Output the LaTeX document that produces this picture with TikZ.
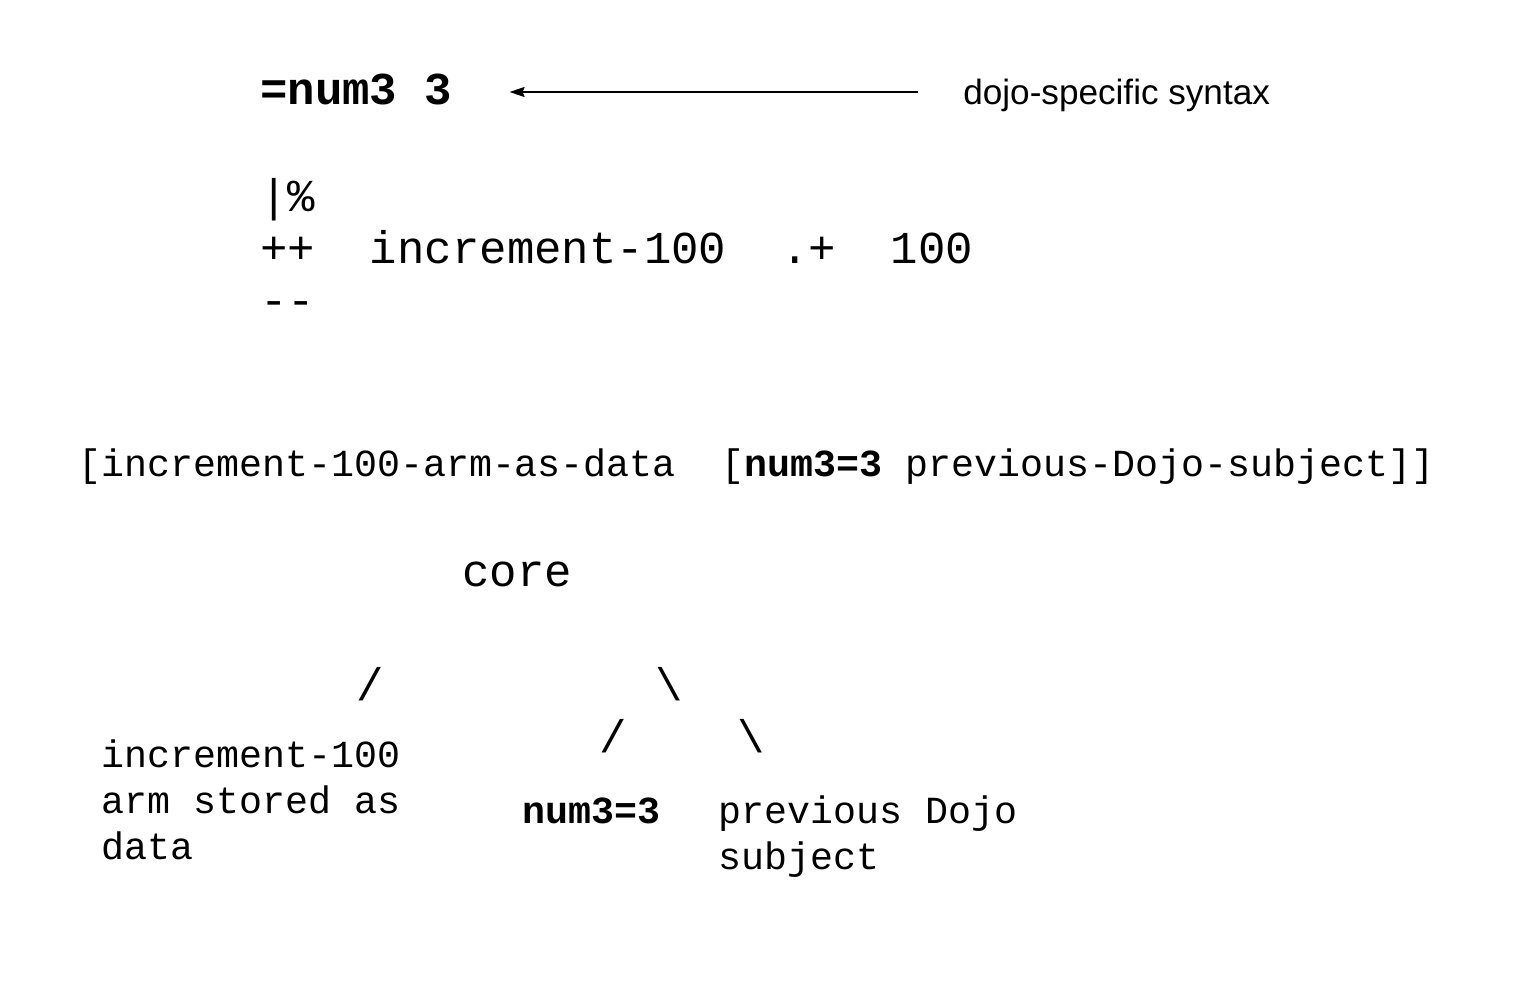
\documentclass[tikz,border=0pt]{standalone}
\usepackage{fontspec}
\setmainfont{Liberation Sans}
\newfontfamily\codefont{Liberation Mono}
\usetikzlibrary{arrows.meta}

\tikzset{
    big/.style={inner sep=0, font=\codefont\fontsize{26}{29.5}\selectfont},
    small/.style={inner sep=0, font=\codefont\fontsize{21.8}{26.1}\selectfont},
}

\begin{document}
\begin{tikzpicture}[x=0.02cm, y=-0.02cm]
    \useasboundingbox (0,0) rectangle (1516,984);
    % syntax line
    \node[big, anchor=base west] (num) at (260,104) {\bfseries =num3 3};
    \node[inner sep=0, anchor=base west, font=\fontsize{20}{24}\selectfont]
        (syntax) at (963,104) {dojo-specific syntax};
    \coordinate (arrowy) at (0,92);
    \draw[{Stealth[length=0.3cm, width=0.2cm, inset=0.04cm]}-, line width=1.1pt,
          shorten <=1.14cm, shorten >=0.9cm]
        (num.east |- arrowy) -- (syntax.west |- arrowy);
    % base of a multi-line node is its last line
    \node[big, anchor=base west, align=left] (ops) at (260,315)
        {|\%\\++~~increment-100~~.+~~100\\-{}-};
    % noun
    \node[small, anchor=base west] (tuple) at (78,476)
        {[increment-100-arm-as-data~~[\textbf{num3=3} previous-Dojo-subject]]};
    % tree
    \node[big, anchor=base west] (core) at (462,586) {core};
    \node[big] (ls) at (370,684) {/};
    \node[big] (rs) at (669,684) {\textbackslash};
    \node[big] (ls2) at (613,736) {/};
    \node[big] (rs2) at (751,736) {\textbackslash};
    \node[small, anchor=base west, align=left] (arm) at (101,859)
        {increment-100\\arm stored as\\data};
    \node[small, anchor=base west] (val) at (522,823) {\bfseries num3=3};
    \node[small, anchor=base west, align=left] (prev) at (718,869)
        {previous Dojo\\subject};
\end{tikzpicture}
\end{document}
